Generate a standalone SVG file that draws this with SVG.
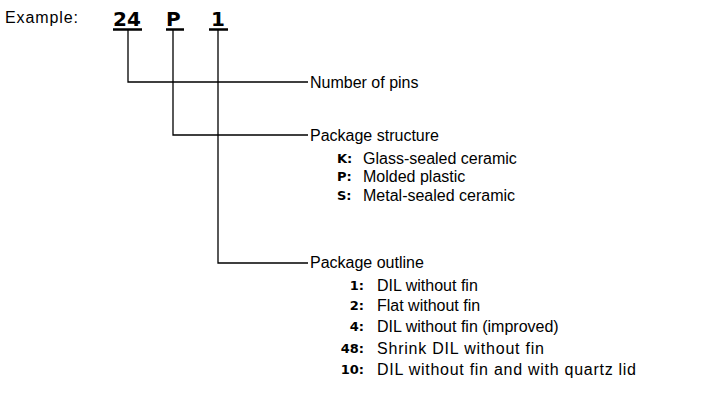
<svg xmlns="http://www.w3.org/2000/svg" width="709" height="401" viewBox="0 0 709 401">
<style>
text{font-family:"Liberation Sans",Arial,sans-serif;fill:#000}
.t{font-size:16px}
.big{font-family:"DejaVu Sans",sans-serif;font-size:20px;font-weight:bold}
.k{font-family:"DejaVu Sans",sans-serif;font-size:13px;font-weight:bold}
.ln{fill:none;stroke:#000;stroke-width:1.3}
.ul{fill:none;stroke:#000;stroke-width:2.5}
</style>
<rect width="709" height="401" fill="#fff"/>
<g id="example">
<text class="t" x="5" y="23" textLength="73" lengthAdjust="spacing">Example:</text>
<text class="big" x="113" y="26">24</text>
<text class="big" x="166" y="26">P</text>
<text class="big" x="211" y="26">1</text>
</g>
<g id="connectors">
<path class="ul" d="M113 29.5H142M166 29.5H184M209 29.5H228"/>
<path class="ln" d="M128 29V82H308"/>
<path class="ln" d="M173 29V135H308"/>
<path class="ln" d="M218 29V263H308"/>
</g>
<g id="pins">
<text class="t" x="310" y="88">Number of pins</text>
</g>
<g id="structure">
<text class="t" x="310" y="141">Package structure</text>
<text class="k" x="337" y="163">K:</text><text class="t" x="363" y="164">Glass-sealed ceramic</text>
<text class="k" x="337" y="181">P:</text><text class="t" x="363" y="182">Molded plastic</text>
<text class="k" x="337" y="200">S:</text><text class="t" x="363" y="201">Metal-sealed ceramic</text>
</g>
<g id="outline">
<text class="t" x="310" y="268">Package outline</text>
<g text-anchor="end">
<text class="k" x="364" y="290">1:</text>
<text class="k" x="364" y="310">2:</text>
<text class="k" x="364" y="331">4:</text>
<text class="k" x="364" y="353">48:</text>
<text class="k" x="364" y="374">10:</text>
</g>
<text class="t" x="377" y="291">DIL without fin</text>
<text class="t" x="377" y="311">Flat without fin</text>
<text class="t" x="377" y="332">DIL without fin (improved)</text>
<text class="t" x="377" y="354" textLength="167" lengthAdjust="spacing">Shrink DIL without fin</text>
<text class="t" x="377" y="375" textLength="259" lengthAdjust="spacing">DIL without fin and with quartz lid</text>
</g>
</svg>
